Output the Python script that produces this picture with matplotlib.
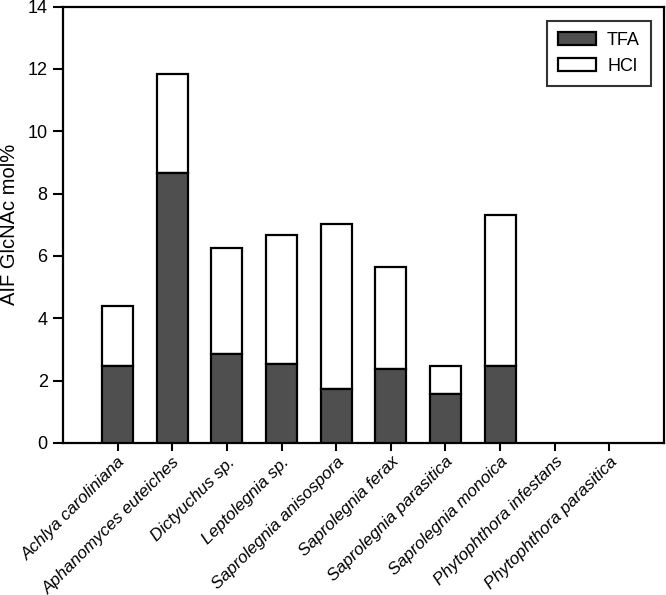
"""Stacked bar chart of AIF GlcNAc mol% by species (TFA vs HCl)."""

import matplotlib
import numpy as np

matplotlib.use("Agg")
matplotlib.rcParams["font.family"] = ["Liberation Sans", "Arimo", "DejaVu Sans"]
import matplotlib.pyplot as plt  # noqa: E402

SPECIES = [
    "Achlya caroliniana",
    "Aphanomyces euteiches",
    "Dictyuchus sp.",
    "Leptolegnia sp.",
    "Saprolegnia anisospora",
    "Saprolegnia ferax",
    "Saprolegnia parasitica",
    "Saprolegnia monoica",
    "Phytophthora infestans",
    "Phytophthora parasitica",
]
TFA = [2.47, 8.67, 2.84, 2.54, 1.74, 2.38, 1.56, 2.46, 0.0, 0.0]
TOTAL = [4.41, 11.84, 6.27, 6.68, 7.01, 5.64, 2.48, 7.32, 0.0, 0.0]
HCL = [t - f for t, f in zip(TOTAL, TFA)]

DARK = "#4f4f4f"


def main():
    fig = plt.figure(figsize=(6.66, 5.95), dpi=100)
    ax = fig.add_axes([0.0946, 0.2555, 0.9024, 0.7335])

    x = np.arange(len(SPECIES))
    w = 0.57
    # no outline for empty bars (Phytophthora has no value)
    lw = [1.6 if t > 0 else 0 for t in TOTAL]
    ax.bar(x, TFA, w, color=DARK, edgecolor="black", linewidth=lw, label="TFA", zorder=3)
    ax.bar(x, HCL, w, bottom=TFA, color="white", edgecolor="black", linewidth=lw,
           label="HCl", zorder=2)

    ax.set_xlim(-1, len(SPECIES))
    ax.set_ylim(0, 14)
    ax.set_yticks(range(0, 15, 2))
    ax.set_xticks(x)
    ax.set_xticklabels(SPECIES, rotation=45, ha="right", va="top",
                       rotation_mode="anchor", fontstyle="italic", fontsize=12.3)
    ax.tick_params(axis="y", labelsize=13, length=7, width=1.5, direction="out", pad=4)
    ax.tick_params(axis="x", length=6, width=1.5, direction="out", pad=2)
    for s in ax.spines.values():
        s.set_linewidth(1.6)
    ax.set_ylabel("AIF GlcNAc mol%", fontsize=14.5)
    ax.yaxis.set_label_coords(-0.073, 0.5)

    leg = ax.legend(loc="upper right", bbox_to_anchor=(0.978, 0.967), borderaxespad=0,
                    fontsize=13, frameon=True, fancybox=False, handlelength=2.1,
                    handleheight=0.75, handletextpad=0.6, borderpad=0.6,
                    labelspacing=0.5)
    leg.get_frame().set_edgecolor("black")
    leg.get_frame().set_linewidth(1.5)

    fig.savefig("out.png", dpi=100)
    plt.close(fig)


if __name__ == "__main__":
    main()
